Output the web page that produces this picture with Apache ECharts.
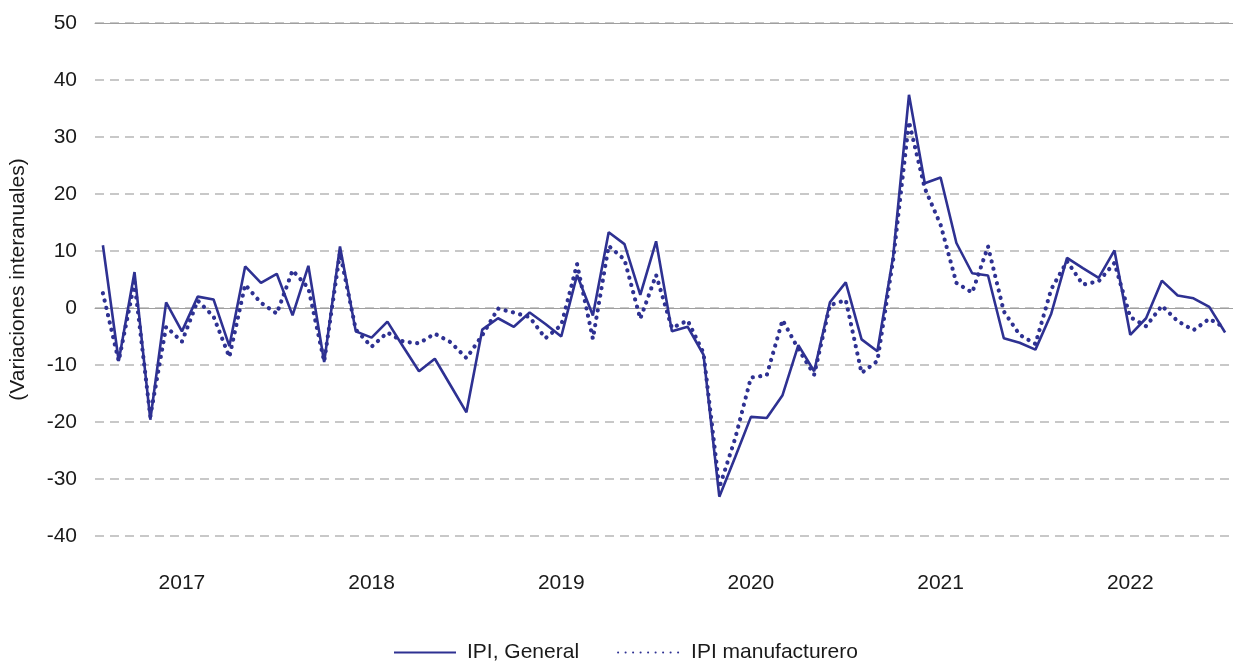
<!DOCTYPE html>
<html>
<head>
<meta charset="utf-8">
<script src="https://cdn.jsdelivr.net/npm/echarts@6/dist/echarts.min.js"></script>
<style>
  html, body { margin: 0; padding: 0; background: #fff; }
  #chart { width: 1233px; height: 662px; }
</style>
</head>
<body>
<div id="chart"></div>
<script>
// meses ene-2017 .. dic-2022
const years = ['2017', '2018', '2019', '2020', '2021', '2022']
const months = []
years.forEach(y => {
  for (let m = 1; m <= 12; m++) months.push(y + '-' + (m < 10 ? '0' + m : m))
})

// IPI, General (variaciones interanuales)
const ipiGeneral = [
  11.0, -9.3, 6.3, -19.6, 1.0, -4.1, 2.0, 1.5, -6.7, 7.3, 4.4, 6.0,
  -1.3, 7.4, -9.5, 10.8, -4.1, -5.2, -2.4, -6.8, -11.1, -8.9, -13.6, -18.3,
  -3.8, -1.8, -3.3, -0.8, -2.8, -5.0, 5.8, -1.3, 13.3, 11.2, 2.3, 11.7,
  -4.1, -3.3, -8.2, -33.1, -26.2, -19.1, -19.3, -15.3, -6.5, -11.1, 1.0, 4.5,
  -5.5, -7.6, 9.1, 37.4, 21.9, 22.9, 11.4, 6.1, 5.7, -5.3, -6.1, -7.3,
  -1.0, 8.8, 7.0, 5.3, 10.1, -4.7, -1.8, 4.8, 2.2, 1.7, 0.2, -4.3
]

// IPI manufacturero
const ipiManuf = [
  2.6, -9.3, 4.5, -19.0, -3.3, -5.9, 1.3, -1.5, -8.6, 4.1, 0.9, -1.0,
  6.6, 3.5, -9.4, 9.7, -3.8, -6.8, -4.3, -5.9, -6.2, -4.5, -6.0, -8.8,
  -4.8, -0.1, -0.8, -1.6, -5.3, -3.0, 7.7, -5.4, 10.9, 8.5, -1.9, 5.8,
  -3.5, -2.2, -7.9, -31.5, -22.9, -12.2, -11.8, -2.1, -7.2, -11.7, 0.5, 1.4,
  -11.4, -9.3, 8.5, 32.7, 21.0, 14.6, 4.4, 2.7, 10.8, -0.6, -4.7, -6.3,
  3.3, 8.2, 4.1, 4.7, 7.9, -1.6, -3.2, 0.4, -2.3, -3.9, -1.9, -3.5
]

const azul = '#2e3192'
const fuente = 'Liberation Sans, Arial, Helvetica, sans-serif'

const chart = echarts.init(document.getElementById('chart'))
chart.setOption({
  animation: false,
  textStyle: { fontFamily: fuente },
  grid: { left: 93, right: -3, top: 23, bottom: 126 },
  legend: {
    bottom: -6,
    left: 388,
    itemWidth: 62,
    itemHeight: 14,
    itemGap: 38,
    itemStyle: { opacity: 0 },
    textStyle: { fontSize: 21, color: '#1a1a1a', fontFamily: fuente, padding: [0, 0, 0, 6] },
    data: ['IPI, General', 'IPI manufacturero']
  },
  xAxis: [
    {
      type: 'category',
      data: months,
      boundaryGap: true,
      axisLine: { show: false, onZero: false },
      axisTick: { show: false },
      splitLine: { show: false },
      axisLabel: {
        interval: (i) => i % 12 === 5,
        formatter: (v) => v.slice(0, 4),
        fontSize: 21,
        color: '#1a1a1a',
        margin: 37
      }
    },
    {
      type: 'category',
      data: months,
      position: 'bottom',
      boundaryGap: true,
      axisLine: { onZero: true, lineStyle: { color: '#a0a0a0', width: 1 } },
      axisTick: { interval: (i) => i % 12 === 0, length: 7, lineStyle: { color: '#a0a0a0' } },
      axisLabel: { show: false },
      splitLine: { show: false }
    },
    {
      type: 'category',
      data: months,
      position: 'top',
      boundaryGap: true,
      axisLine: { onZero: true, lineStyle: { color: '#a0a0a0', width: 1 } },
      axisTick: { interval: (i) => i % 12 === 0, length: 7, lineStyle: { color: '#a0a0a0' } },
      axisLabel: { show: false },
      splitLine: { show: false }
    }
  ],
  yAxis: {
    type: 'value',
    min: -40,
    max: 50,
    interval: 10,
    name: '(Variaciones interanuales)',
    nameLocation: 'middle',
    nameGap: 66,
    nameTextStyle: { fontSize: 21, color: '#1a1a1a', fontFamily: fuente },
    axisLine: { show: false },
    axisTick: { show: false },
    axisLabel: { fontSize: 21, color: '#1a1a1a', margin: 18 },
    splitLine: { lineStyle: { color: '#c8c8c8', width: 2, type: [9, 6] } }
  },
  series: [
    {
      name: 'IPI, General',
      type: 'line',
      data: ipiGeneral,
      symbol: 'none',
      z: 3,
      color: azul,
      lineStyle: { color: azul, width: 2.6 }
    },
    {
      name: 'IPI manufacturero',
      type: 'line',
      data: ipiManuf,
      symbol: 'none',
      z: 2,
      color: azul,
      lineStyle: { color: azul, width: 4.2, type: [0.1, 7.4], cap: 'round' }
    }
  ]
})
</script>
</body>
</html>
